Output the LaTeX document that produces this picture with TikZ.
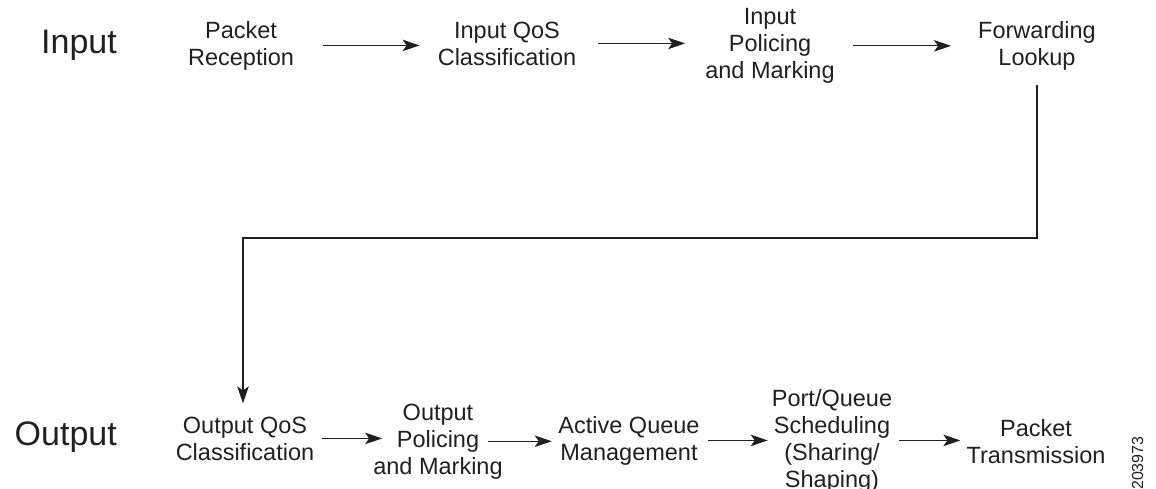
\documentclass[tikz,border=0pt]{standalone}
\usepackage{fontspec}
\setmainfont{Liberation Sans}
\usetikzlibrary{arrows.meta}
\definecolor{ink}{HTML}{231F20}
\begin{document}
\begin{tikzpicture}[x=1pt,y=-1pt,
  stage/.style={align=center,inner sep=0pt,anchor=base,font=\fontsize{23.5}{27}\selectfont,text=ink},
  side/.style={inner sep=0pt,anchor=base east,font=\fontsize{34}{40}\selectfont,text=ink},
  arr/.style={draw=ink,line width=1.25pt,-{Stealth[length=17pt,width=11.5pt,inset=4pt]}}]
\useasboundingbox (0,0) rectangle (1156,488);
% row labels
\node[side] (lin) at (117,53) {Input};
\node[side] (lout) at (117,445) {Output};
% input stages (anchor = baseline of last line)
\node[stage] (PR)  at (241,65)   {Packet\\Reception};
\node[stage] (IQC) at (507,65)   {Input QoS\\Classification};
\node[stage] (IPM) at (770,78.5) {Input\\Policing\\and Marking};
\node[stage] (FL)  at (1037,65)  {Forwarding\\Lookup};
% output stages
\node[stage] (OQC) at (245,460)  {Output QoS\\Classification};
\node[stage] (OPM) at (438,474)  {Output\\Policing\\and Marking};
\node[stage] (AQM) at (629,460)  {Active Queue\\Management};
\node[stage] (PQS) at (832,487)  {Port/Queue\\Scheduling\\(Sharing/\\Shaping)};
\node[stage] (PT)  at (1036,463) {Packet\\Transmission};
\node[rotate=90,anchor=base west,inner sep=0pt,font=\fontsize{16}{19}\selectfont,text=ink] (fig) at (1143,490) {203973};
% input arrows
\draw[arr,shorten <=29pt,shorten >=18pt] (PR.east) -- (PR.east -| IQC.west);
\draw[arr,shorten <=22pt,shorten >=20pt] (IQC.east) -- (IQC.east -| IPM.west);
\draw[arr,shorten <=18pt,shorten >=27pt] (IPM.east) -- (IPM.east -| FL.west);
% feedback from lookup to output
\coordinate (bend) at (243,238);
\draw[arr,shorten <=15pt,shorten >=13pt] (FL.south) |- (bend) -- (bend |- OQC.north);
% output arrows
\draw[arr,shorten <=8pt,shorten >=-9pt] (OQC.east) -- (OQC.east -| OPM.west);
\draw[arr,shorten <=-15pt,shorten >=6.5pt] (OPM.east) -- (OPM.east -| AQM.west);
\draw[arr,shorten <=8.5pt,shorten >=4pt] (AQM.east) -- (AQM.east -| PQS.west);
\draw[arr,shorten <=7pt,shorten >=6pt] (PQS.east) -- (PQS.east -| PT.west);
\end{tikzpicture}
\end{document}
